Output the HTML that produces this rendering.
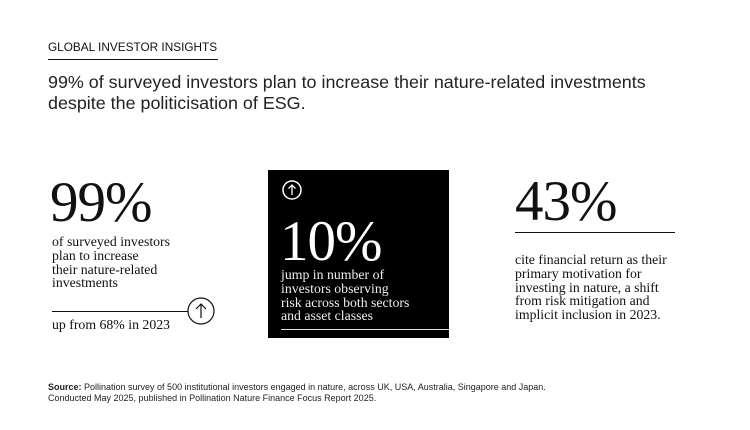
<!DOCTYPE html>
<html><head><meta charset="utf-8"><style>
body{margin:0;width:750px;height:430px;background:#fff;position:relative;overflow:hidden;font-family:"Liberation Sans",sans-serif;color:#111}
.a{position:absolute;white-space:nowrap}
.serif{font-family:"Liberation Serif",serif}
.big{font-size:57px;line-height:56px;letter-spacing:-1px}
.body{font-size:13.8px;line-height:13.8px}
</style></head><body>
<div class="a" style="left:48px;top:40px;font-size:11.8px;letter-spacing:0">GLOBAL INVESTOR INSIGHTS</div>
<div class="a" style="left:48px;top:59px;width:170px;height:1px;background:#111"></div>
<div class="a" style="left:48px;top:72px;font-size:17.9px;line-height:21px;color:#222">99% of surveyed investors plan to increase their nature-related investments<br>despite the politicisation of ESG.</div>

<div class="a serif big" style="left:50px;top:175px">99%</div>
<div class="a serif body" style="left:52px;top:235px">of surveyed investors<br>plan to increase<br>their nature-related<br>investments</div>
<div class="a" style="left:52px;top:311px;width:136px;height:1px;background:#111"></div>
<svg class="a" style="left:186px;top:297px" width="30" height="30"><circle cx="15" cy="14" r="13" fill="none" stroke="#111" stroke-width="1.2"/><path d="M15 21V7M10 12l5-5 5 5" fill="none" stroke="#111" stroke-width="1.2"/></svg>
<div class="a serif body" style="left:52px;top:318px">up from 68% in 2023</div>

<div class="a" style="left:268px;top:170px;width:181px;height:168px;background:#000"></div>
<svg class="a" style="left:281px;top:179px" width="22" height="22"><circle cx="11" cy="11" r="9" fill="none" stroke="#fff" stroke-width="1.5"/><path d="M11 16V6M7.5 9.5L11 6l3.5 3.5" fill="none" stroke="#fff" stroke-width="1.3"/></svg>
<div class="a serif big" style="left:280px;top:214px;color:#fff">10%</div>
<div class="a serif body" style="left:281px;top:268px;color:#eee">jump in number of<br>investors observing<br>risk across both sectors<br>and asset classes</div>
<div class="a" style="left:281px;top:329px;width:168px;height:1px;background:#ddd"></div>

<div class="a serif big" style="left:515px;top:174px">43%</div>
<div class="a" style="left:515px;top:232px;width:160px;height:1px;background:#111"></div>
<div class="a serif body" style="left:515px;top:253px">cite financial return as their<br>primary motivation for<br>investing in nature, a shift<br>from risk mitigation and<br>implicit inclusion in 2023.</div>

<div class="a" style="left:48px;top:382px;font-size:9px;line-height:11px;color:#222"><b>Source:</b> Pollination survey of 500 institutional investors engaged in nature, across UK, USA, Australia, Singapore and Japan.<br>Conducted May 2025, published in Pollination Nature Finance Focus Report 2025.</div>
</body></html>
